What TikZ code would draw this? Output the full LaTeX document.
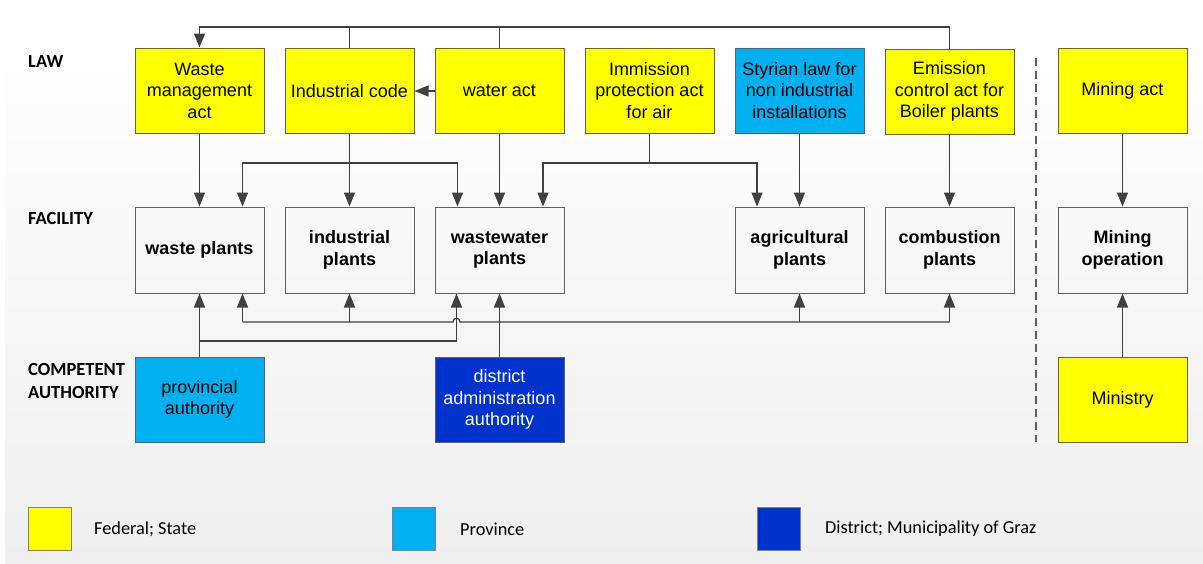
\documentclass[tikz,border=0pt]{standalone}
\usepackage{fontspec}
\setmainfont{Liberation Sans}
\newfontfamily\labelfont{Carlito}
\usetikzlibrary{arrows.meta}
\definecolor{lawyellow}{HTML}{FFFF00}
\definecolor{provblue}{HTML}{00B0F0}
\definecolor{distblue}{HTML}{0033CC}
\definecolor{linegray}{HTML}{404040}
\definecolor{edgegray}{HTML}{5F5F5F}
\definecolor{bgbottom}{HTML}{EFEFEF}

\begin{document}
\begin{tikzpicture}[x=1pt,y=-1pt,
  box/.style={draw=edgegray, line width=1pt, minimum width=129pt, minimum height=85pt,
    inner sep=2pt, align=center, font=\fontsize{18}{21.5}\selectfont},
  lawbox/.style={box, fill=lawyellow},
  facbox/.style={box, minimum height=86pt, font=\fontsize{18}{21.5}\selectfont\bfseries},
  wire/.style={draw=linegray, line width=1.3pt},
  conn/.style={wire, -{Triangle[length=14pt,width=11pt]}},
  rowlabel/.style={font=\labelfont\fontsize{18.5}{23}\selectfont\bfseries, anchor=base west,
    inner sep=0pt, align=left},
  legsq/.style={draw=gray, line width=1pt, minimum width=43pt, minimum height=43pt, inner sep=0pt},
  legtext/.style={font=\labelfont\fontsize{18.3}{21}\selectfont, anchor=west, inner sep=0pt},
  divider/.style={draw=edgegray, line width=1.3pt, dash pattern=on 8pt off 5pt}
]
\useasboundingbox (0,0) rectangle (1203,563);

% background panel
\fill[top color=white, bottom color=bgbottom] (5,20) rectangle (1203,563);

% row labels
\node[rowlabel] (lawlbl) at (28,67) {LAW};
\node[rowlabel] (faclbl) at (28,224) {FACILITY};
\node[rowlabel] (authlbl) at (28,398) {COMPETENT\\AUTHORITY};

% laws
\node[lawbox] (wm)  at (199.5,90.5) {Waste\\management\\act};
\node[lawbox] (ind) at (349.5,91) {Industrial code};
\node[lawbox] (wa)  at (499.5,91) {water act};
\node[lawbox] (imm) at (649.5,90.5) {Immission\\protection act\\for air};
\node[box, fill=provblue] (sty) at (799.5,90.5) {Styrian law for\\non industrial\\installations};
\node[lawbox] (em)  at (949.5,91.5) {Emission\\control act for\\Boiler plants};
\node[lawbox] (mine) at (1122.5,91) {Mining act};

% facilities
\node[facbox] (wp)  at (199.5,250) {waste plants};
\node[facbox] (ip)  at (349.5,250) {industrial\\plants};
\node[facbox] (wwp) at (499.5,250) {wastewater\\plants};
\node[facbox] (agp) at (799.5,250) {agricultural\\plants};
\node[facbox] (cp)  at (949.5,250) {combustion\\plants};
\node[facbox] (mop) at (1122.5,250) {Mining\\operation};

% authorities
\node[box, fill=provblue] (prov) at (199.5,399.5) {provincial\\authority};
\node[box, fill=distblue, text=white] (dist) at (499.5,399.5) {district\\administration\\authority};
\node[lawbox] (min) at (1122.5,399.5) {Ministry};

% bus levels
\coordinate (topbus) at (0,27);
\coordinate (midbus) at (0,163);
\coordinate (lowbus) at (0,322);
\coordinate (provbus) at (0,341);

% links between laws
\draw[conn] (ind.north) -- (ind.north |- topbus) -| (wm.north);
\draw[wire] (wa.north) -- (wa.north |- topbus) -- (ind.north |- topbus);
\draw[wire] (em.north) -- (em.north |- topbus) -- (wa.north |- topbus);
\draw[conn] (wa.west) -- (ind.east);

% laws to facilities
\draw[conn] (wm.south) -- (wp.north);
\draw[conn] (ind.south) -- (ip.north);
\draw[conn] (ind.south |- midbus) -| ([xshift=43pt]wp.north);
\draw[conn] (ind.south |- midbus) -| ([xshift=-42pt]wwp.north);
\draw[conn] (wa.south) -- (wwp.north);
\draw[conn] (imm.south) -- (imm.south |- midbus) -| ([xshift=43.5pt]wwp.north);
\draw[conn] (imm.south |- midbus) -| ([xshift=-42.5pt]agp.north);
\draw[conn] (sty.south) -- (agp.north);
\draw[conn] (em.south) -- (cp.north);
\draw[conn] (mine.south) -- (mop.north);

% authorities to facilities
\coordinate (hop) at ([xshift=-43pt]wwp.south |- lowbus);
\draw[conn] (prov.north) -- (wp.south);
\draw[conn] (prov.north |- provbus) -| ([xshift=-43pt]wwp.south);
\draw[conn] (dist.north) -- (wwp.south);
\draw[wire] ([xshift=43pt]wp.south |- lowbus) -- ([xshift=-3.5pt]hop)
  .. controls ([shift={(-3.5,-5)}]hop) and ([shift={(3.5,-5)}]hop) .. ([xshift=3.5pt]hop)
  -- (cp.south |- lowbus);
\draw[conn] ([xshift=43pt]wp.south |- lowbus) -- ([xshift=43pt]wp.south);
\draw[conn] (ip.south |- lowbus) -- (ip.south);
\draw[conn] (agp.south |- lowbus) -- (agp.south);
\draw[conn] (cp.south |- lowbus) -- (cp.south);
\draw[conn] (min.north) -- (mop.south);

% divider
\coordinate (divtop) at (1036,58);
\coordinate (divbot) at (1036,442);
\draw[divider] (divtop) -- (divbot);

% legend
\node[legsq, fill=lawyellow] (lg1) at (49.5,528.5) {};
\node[legtext] (lt1) at (94,529) {Federal; State};
\node[legsq, fill=provblue] (lg2) at (414,528.5) {};
\node[legtext] (lt2) at (460,529) {Province};
\node[legsq, fill=distblue] (lg3) at (778.5,528.5) {};
\node[legtext] (lt3) at (825,529) {District; Municipality of Graz};
\end{tikzpicture}
\end{document}
